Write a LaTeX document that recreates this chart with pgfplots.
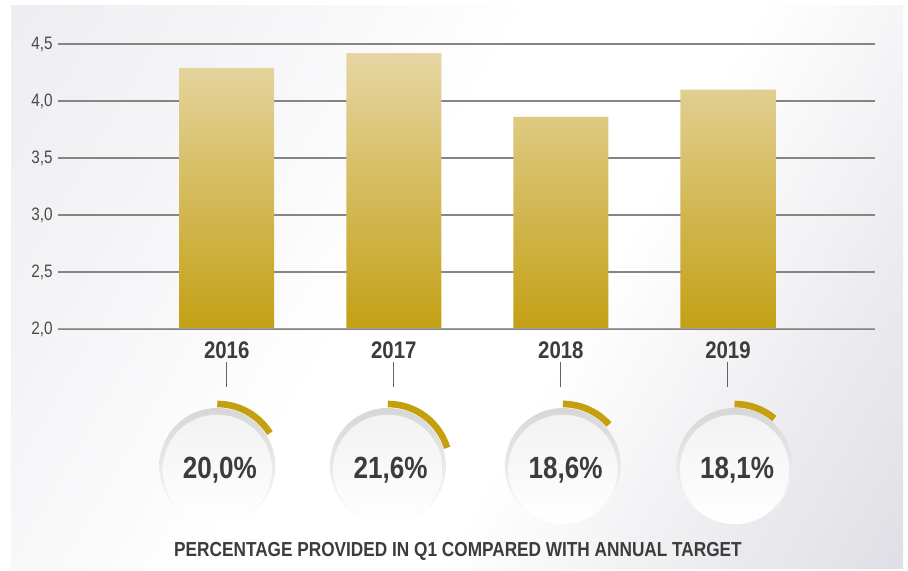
\documentclass[border=0pt]{standalone}
\usepackage{pgfplots}
\pgfplotsset{compat=1.18}
\usepackage{fontspec}
\newfontfamily\cond{Liberation Sans}[FakeStretch=0.85]
\definecolor{bartop}{HTML}{E6D6A4}
\definecolor{barbot}{HTML}{C3A014}
\definecolor{gold}{HTML}{C4A00E}
\definecolor{txt}{HTML}{3C3C3C}
\definecolor{ticktxt}{HTML}{4A4A4A}
\definecolor{gridgray}{HTML}{858585}
\definecolor{bgtl}{HTML}{E6E6EC}
\definecolor{bgbr}{HTML}{CBCBD5}
\pgfdeclarehorizontalshading{panel}{100bp}{color(0bp)=(bgtl); color(30bp)=(bgtl!40!white); color(45bp)=(white); color(58bp)=(white); color(100bp)=(bgbr)}

\begin{document}
\begin{tikzpicture}
% 1px = 0.75pt, picture 908x571 px
\useasboundingbox (0,0) rectangle (681pt,428.25pt);
\fill[white] (0,0) rectangle (681pt,428.25pt);
\shade[shading=panel, shading angle=-30]
  (8.25pt,1.5pt) rectangle (677.25pt,423.75pt);

\begin{axis}[
    at={(43.5pt,181.5pt)}, anchor=south west,
    scale only axis,
    width=612.75pt, height=213.75pt,
    xmin=-1.01, xmax=3.88,
    ymin=0, ymax=2.5,
    y filter/.expression={y-2},
    xtick={0,1,2,3},
    xticklabels={2016,2017,2018,2019},
    ytick={0,0.5,1,1.5,2,2.5},
    yticklabel={\pgfmathparse{\tick+2}\pgfmathprintnumber[fixed,fixed zerofill,precision=1,use comma,assume math mode=true]{\pgfmathresult}},
    major tick length=0pt,
    axis line style={draw=none},
    ymajorgrids,
    grid style={color=gridgray, line width=0.8pt},
    yticklabel style={font=\cond\fontsize{13.5}{13.5}\selectfont, text=ticktxt,
        anchor=base east, inner sep=0pt, xshift=-3.75pt, yshift=-4.5pt},
    xticklabel style={font=\cond\bfseries\fontsize{18}{18}\selectfont, text=txt,
        anchor=base, yshift=-22.5pt},
]
\addplot[ybar, bar width=71.25pt, draw=none, top color=bartop, bottom color=barbot]
  coordinates {(0,4.29) (1,4.42) (2,3.86) (3,4.10)};
\draw[color=gray!75, line width=1.5pt] (rel axis cs:0,0) -- (rel axis cs:1,0);
\pgfplotsinvokeforeach{0,1,2,3}{\coordinate (c#1) at (axis cs:#1,0);}
\end{axis}

% gauges under the years: value, arc sweep in degrees
\foreach \i/\dx/\pct/\ang in {0/-7.1/{20,0}/58, 1/-4.5/{21,6}/73, 2/1.5/{18,6}/48, 3/4.9/{18,1}/40}{
  \draw[color=txt!80, line width=0.75pt] ([yshift=-24.75pt]c\i) -- ([yshift=-43.5pt]c\i);
  \begin{scope}[shift={([xshift=\dx pt, yshift=-102.75pt]c\i)}]
    \shade[top color=black!16, bottom color=black!1] (0,0) circle (43.5pt);
    \shade[top color=black!5, bottom color=white] (0,-2.5pt) circle (41pt);
    \draw[color=gold, line width=5pt] (90:46.5pt) arc[start angle=90, delta angle=-\ang, radius=46.5pt];
    \node[text=txt, font=\cond\bfseries\fontsize{23}{23}\selectfont, anchor=base, inner sep=0pt]
      at (2pt,-9.75pt) {\pct\%};
  \end{scope}
}

\node[text=txt, font=\cond\bfseries\fontsize{15.2}{15.2}\selectfont, anchor=base, inner sep=0pt]
  at (343.5pt,10.5pt) {PERCENTAGE PROVIDED IN Q1 COMPARED WITH ANNUAL TARGET};
\end{tikzpicture}
\end{document}
